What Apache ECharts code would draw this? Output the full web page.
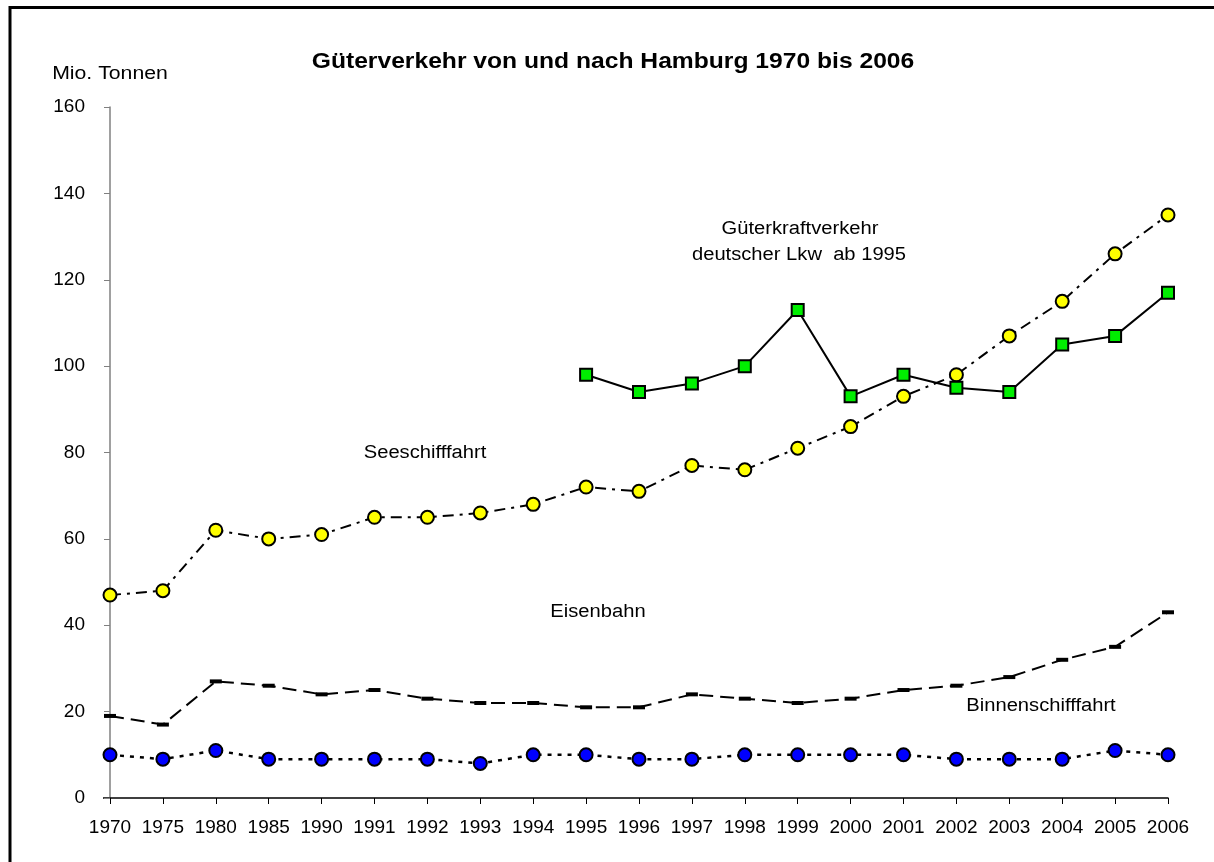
<!DOCTYPE html>
<html><head><meta charset="utf-8">
<script src="https://cdn.jsdelivr.net/npm/echarts@6/dist/echarts.min.js"></script>
<style>html,body{margin:0;padding:0;background:#fff}#c{width:1214px;height:862px}</style>
</head><body><div id="c"></div>
<script>
const years = ['1970','1975','1980','1985','1990','1991','1992','1993','1994','1995','1996','1997','1998','1999','2000','2001','2002','2003','2004','2005','2006'];
const seeschifffahrt = [47,48,62,60,61,65,65,66,68,72,71,77,76,81,86,93,98,107,115,126,135];
const gueterkraftverkehr = [null,null,null,null,null,null,null,null,null,98,94,96,100,113,93,98,95,94,105,107,117];
const eisenbahn = [19,17,27,26,24,25,23,22,22,21,21,24,23,22,23,25,26,28,32,35,43];
const binnenschifffahrt = [10,9,11,9,9,9,9,8,10,10,9,9,10,10,10,10,9,9,9,11,10];

const FONT = '"Liberation Sans", Arial, sans-serif';
const SX = 1.12;
const chart = echarts.init(document.getElementById('c'), null, {renderer:'canvas'});
chart.setOption({
  animation:false,
  backgroundColor:'#fff',
  textStyle:{fontFamily:FONT},
  grid:{left:110,right:46,top:107,bottom:64,containLabel:false},
  xAxis:{type:'category',data:years,boundaryGap:false,
    axisLine:{lineStyle:{color:'#000',width:1.5}},
    axisTick:{show:true,length:6,alignWithLabel:true,lineStyle:{color:'#000'}},
    axisLabel:{color:'#000',fontSize:19,fontFamily:FONT,margin:20,interval:0},
    splitLine:{show:false}},
  yAxis:{type:'value',min:0,max:160,interval:20,
    axisLine:{show:true,lineStyle:{color:'#808080',width:1.5}},
    axisTick:{show:true,length:6,lineStyle:{color:'#808080'}},
    axisLabel:{color:'#000',fontSize:19,fontFamily:FONT,margin:25},
    splitLine:{show:false}},
  series:[
    {name:'Seeschifffahrt',type:'line',data:seeschifffahrt,symbol:'circle',symbolSize:13,
     lineStyle:{color:'#000',width:2,type:[11,6,3,6]},
     itemStyle:{color:'#ffff00',borderColor:'#000',borderWidth:2},z:3},
    {name:'Güterkraftverkehr',type:'line',data:gueterkraftverkehr,symbol:'rect',symbolSize:12,
     lineStyle:{color:'#000',width:2,type:'solid'},
     itemStyle:{color:'#00ee00',borderColor:'#000',borderWidth:2},z:4},
    {name:'Eisenbahn',type:'line',data:eisenbahn,symbol:'rect',symbolSize:[12,4],
     lineStyle:{color:'#000',width:2,type:[14,7]},
     itemStyle:{color:'#000',borderWidth:0},z:2},
    {name:'Binnenschifffahrt',type:'line',data:binnenschifffahrt,symbol:'circle',symbolSize:13,
     lineStyle:{color:'#000',width:2.5,type:[4,6]},
     itemStyle:{color:'#0000ff',borderColor:'#000',borderWidth:2},z:3}
  ],
  graphic:[
    {type:'rect',x:0,y:0,shape:{x:10,y:7.5,width:1300,height:1000},style:{fill:'none',stroke:'#000',lineWidth:3},silent:true,z:10},
    {type:'line',x:0,y:0,shape:{x1:103,y1:798,x2:110,y2:798},style:{stroke:'#000',lineWidth:1.5},silent:true},
    {type:'text',x:613,y:62,scaleX:SX,style:{text:'Güterverkehr von und nach Hamburg 1970 bis 2006',font:'bold 22px '+FONT,fill:'#000',textAlign:'center',textVerticalAlign:'middle'}},
    {type:'text',x:110,y:74,scaleX:1.18,style:{text:'Mio. Tonnen',font:'18px '+FONT,fill:'#000',textAlign:'center',textVerticalAlign:'middle'}},
    {type:'text',x:800,y:229,scaleX:SX,style:{text:'Güterkraftverkehr',font:'18px '+FONT,fill:'#000',textAlign:'center',textVerticalAlign:'middle'}},
    {type:'text',x:799,y:255,scaleX:SX,style:{text:'deutscher Lkw  ab 1995',font:'18px '+FONT,fill:'#000',textAlign:'center',textVerticalAlign:'middle'}},
    {type:'text',x:425,y:453,scaleX:SX,style:{text:'Seeschifffahrt',font:'18px '+FONT,fill:'#000',textAlign:'center',textVerticalAlign:'middle'}},
    {type:'text',x:598,y:612,scaleX:SX,style:{text:'Eisenbahn',font:'18px '+FONT,fill:'#000',textAlign:'center',textVerticalAlign:'middle'}},
    {type:'text',x:1041,y:706,scaleX:SX,style:{text:'Binnenschifffahrt',font:'18px '+FONT,fill:'#000',textAlign:'center',textVerticalAlign:'middle'}}
  ]
});
</script></body></html>
